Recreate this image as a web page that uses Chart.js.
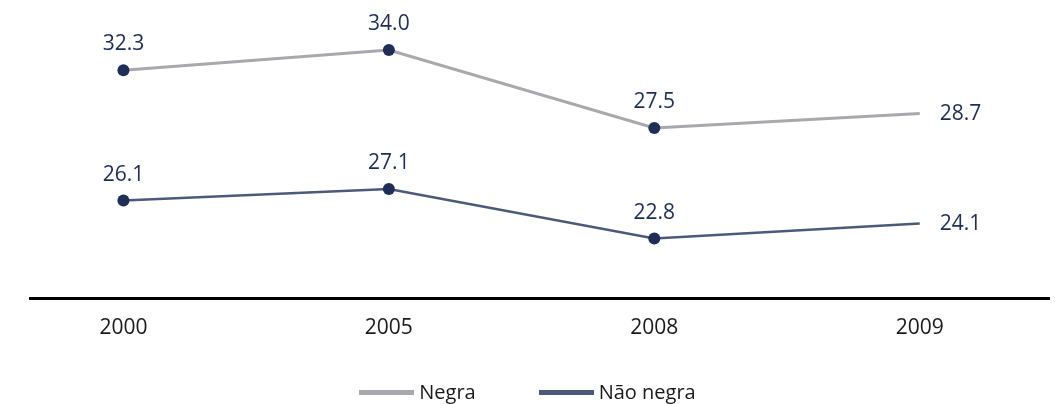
<!DOCTYPE html>
<html>
<head>
<meta charset="utf-8">
<script src="https://cdn.jsdelivr.net/npm/chart.js@4/dist/chart.umd.min.js"></script>
<style>
  body { margin: 0; background: #fff; }
  #wrap { position: relative; width: 1055px; height: 404px; }
  #legenda {
    position: absolute; left: 0; right: 0; top: 380px;
    display: flex; justify-content: center; gap: 63px;
    font: 20px/24px "Open Sans", sans-serif; color: #1a1a1a;
  }
  #legenda .item { display: flex; align-items: center; }
  #legenda .sw { width: 55px; height: 5px; margin-right: 5px; margin-top: 1px; }
</style>
</head>
<body>
<div id="wrap">
  <canvas id="taxa"></canvas>
  <div id="legenda"></div>
</div>
<script>
// anos e taxas
const anos = ['2000', '2005', '2008', '2009'];
const negra = [32.3, 34.0, 27.5, 28.7];
const naoNegra = [26.1, 27.1, 22.8, 24.1];
const series = ['Negra', 'Não negra'];

const navy = '#1f2d57';
const lastIdx = anos.length - 1;

function toPoints(arr) {
  return arr.map((v, i) => ({ x: i, y: v }));
}

// rotulos de valor em cima dos pontos (ultimo ponto: a direita)
const valueLabels = {
  id: 'valueLabels',
  afterDatasetsDraw(chart) {
    const ctx = chart.ctx;
    ctx.save();
    ctx.font = '21px "Open Sans", sans-serif';
    ctx.fillStyle = navy;
    ctx.textBaseline = 'middle';
    chart.data.datasets.forEach((ds, di) => {
      const meta = chart.getDatasetMeta(di);
      meta.data.forEach((pt, i) => {
        const txt = ds.data[i].y.toFixed(1);
        if (i === lastIdx) {
          ctx.textAlign = 'left';
          ctx.fillText(txt, pt.x + 20, pt.y);
        } else {
          ctx.textAlign = 'center';
          ctx.fillText(txt, pt.x, pt.y - 26);
        }
      });
    });
    ctx.restore();
  }
};

const ctx = document.getElementById('taxa').getContext('2d');
const chart = new Chart(ctx, {
  type: 'line',
  data: {
    datasets: [{
        label: series[0],
        data: toPoints(negra),
        yAxisID: 'y',
        borderColor: '#a7a9ac',
        backgroundColor: '#a7a9ac',
        borderWidth: 3,
        pointRadius: [6, 6, 6, 0],
        pointBackgroundColor: navy,
        pointBorderWidth: 0,
        tension: 0
      },
      {
        label: series[1],
        data: toPoints(naoNegra),
        yAxisID: 'y2',
        borderColor: '#4b5a7a',
        backgroundColor: '#4b5a7a',
        borderWidth: 2.5,
        pointRadius: [6, 6, 6, 0],
        pointBackgroundColor: navy,
        pointBorderWidth: 0,
        tension: 0
      }
    ]
  },
  options: {
    responsive: true,
    maintainAspectRatio: false,
    animation: false,
    layout: {
      padding: { top: 10, left: 30, right: 0, bottom: 0 }
    },
    scales: {
      x: {
        type: 'linear',
        min: -0.352,
        max: 3.487,
        grid: { display: false, drawTicks: false },
        border: { display: true, color: '#000', width: 3 },
        afterFit(scale) { scale.height = 106; },
        ticks: {
          stepSize: 1,
          autoSkip: false,
          includeBounds: false,
          padding: 17,
          color: '#1a1a1a',
          font: { family: '"Open Sans", sans-serif', size: 21 },
          callback: (v) => (Number.isInteger(v) && anos[v]) ? anos[v] : ''
        }
      },
      y: {
        display: false,
        min: 13.33,
        max: 37.33
      },
      y2: {
        display: false,
        min: 17.63,
        max: 42.67
      }
    },
    plugins: {
      title: { display: false },
      tooltip: { enabled: false },
      legend: { display: false }
    }
  },
  plugins: [valueLabels]
});

// legenda em html
const leg = document.getElementById('legenda');
chart.data.datasets.forEach((ds) => {
  const item = document.createElement('div');
  item.className = 'item';
  const sw = document.createElement('span');
  sw.className = 'sw';
  sw.style.background = ds.borderColor;
  const t = document.createElement('span');
  t.textContent = ds.label;
  item.appendChild(sw);
  item.appendChild(t);
  leg.appendChild(item);
});
</script>
</body>
</html>
